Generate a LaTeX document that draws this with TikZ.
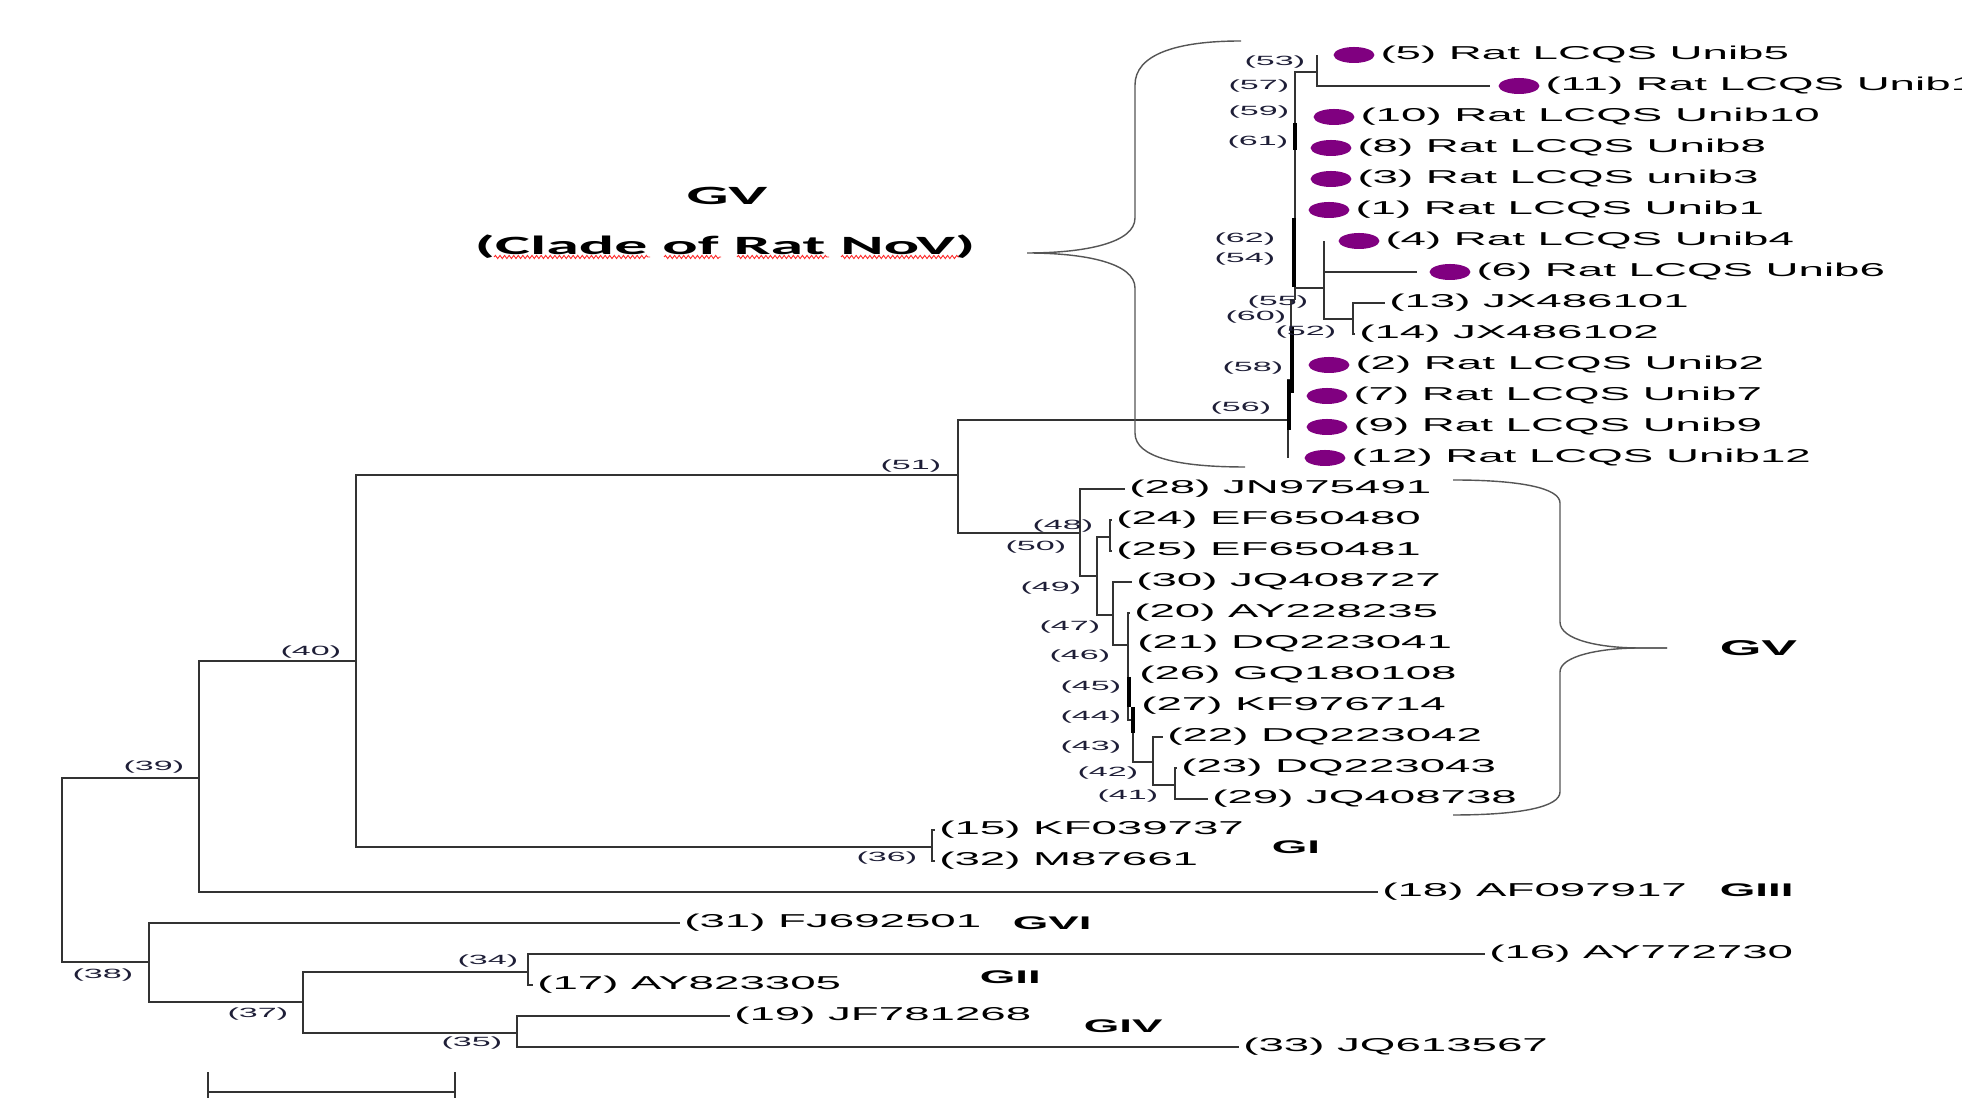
\documentclass[tikz,border=0pt]{standalone}
\usepackage{fontspec}
\setmainfont{Liberation Sans}
\newfontfamily\calibfont{Carlito}
\usepackage{tikz}
\usetikzlibrary{decorations.pathmorphing}
\definecolor{RatDot}{RGB}{128, 0, 128}
\definecolor{TreeLine}{RGB}{51, 51, 51}
\definecolor{BraceLine}{RGB}{85, 85, 85}
\definecolor{LabNavy}{RGB}{30, 30, 55}

\begin{document}
\begin{tikzpicture}[x=0.01cm, y=-0.01cm,
  leaf/.style={anchor=west, inner sep=0pt, inner xsep=0.3pt, xscale=2.45, font=\fontsize{5.3}{6}\selectfont, text=black},
  nlab/.style={anchor=east, inner sep=0pt, xscale=2.55, font=\fontsize{3.8}{4.5}\selectfont, text=LabNavy},
  grp/.style={anchor=west, inner sep=0pt, xscale=2.5, font=\bfseries\fontsize{5.2}{6}\selectfont},
  ratdot/.style={circle, fill=RatDot, inner sep=0pt, minimum size=0.16cm, xscale=2.55},
  branch/.style={draw=TreeLine, line width=0.4pt},
  thickseg/.style={draw=black, line width=0.9pt},
  brace/.style={draw=BraceLine, line width=0.4pt},
  squig/.style={draw=red!85, line width=0.25pt, decorate, decoration={snake, amplitude=0.45pt, segment length=1.3pt}}]

\fill [white] (0,0) rectangle (1962,1098);
\useasboundingbox (0,0) rectangle (1962,1098);

\coordinate (root) at (62,870);
\coordinate (n39) at (199,778);
\coordinate (n40) at (356,661);
\coordinate (n51) at (958,475);
\coordinate (n56) at (1288,420);
\coordinate (n58) at (1291,380);
\coordinate (n55) at (1295,300);
\coordinate (n53) at (1317,72);
\coordinate (n54) at (1324,288);
\coordinate (n52) at (1353,319);
\coordinate (n36) at (932,847);
\coordinate (n50) at (1080,533);
\coordinate (n49) at (1097,576);
\coordinate (n48) at (1110,537);
\coordinate (n47) at (1113,615);
\coordinate (n46) at (1128,645);
\coordinate (n43) at (1133,720);
\coordinate (n42) at (1153,762);
\coordinate (n41) at (1175,785);
\coordinate (n38) at (149,962);
\coordinate (n37) at (303,1002);
\coordinate (n34) at (528,972);
\coordinate (n35) at (517,1033);

\coordinate (tip5) at (1317,55);
\coordinate (tip11) at (1490,86);
\coordinate (tip4) at (1324,241);
\coordinate (tip6) at (1417,272);
\coordinate (tip12) at (1288,458);

\node [ratdot] (d5) at (1354,55) {};
\node [ratdot] (d11) at (1519,86) {};
\node [ratdot] (d10) at (1334,117) {};
\node [ratdot] (d8) at (1331,148) {};
\node [ratdot] (d3) at (1331,179) {};
\node [ratdot] (d1) at (1329,210) {};
\node [ratdot] (d4) at (1359,241) {};
\node [ratdot] (d6) at (1450,272) {};
\node [ratdot] (d2) at (1329,365) {};
\node [ratdot] (d7) at (1327,396) {};
\node [ratdot] (d9) at (1327,427) {};
\node [ratdot] (d12) at (1325,458) {};

\node [leaf] (t5) at (d5.east) {(5) Rat LCQS Unib5};
\node [leaf] (t11) at (d11.east) {(11) Rat LCQS Unib11};
\node [leaf] (t10) at (d10.east) {(10) Rat LCQS Unib10};
\node [leaf] (t8) at (d8.east) {(8) Rat LCQS Unib8};
\node [leaf] (t3) at (d3.east) {(3) Rat LCQS unib3};
\node [leaf] (t1) at (d1.east) {(1) Rat LCQS Unib1};
\node [leaf] (t4) at (d4.east) {(4) Rat LCQS Unib4};
\node [leaf] (t6) at (d6.east) {(6) Rat LCQS Unib6};
\node [leaf] (t13) at (1385,303) {(13) JX486101};
\node [leaf] (t14) at (1355,334) {(14) JX486102};
\node [leaf] (t2) at (d2.east) {(2) Rat LCQS Unib2};
\node [leaf] (t7) at (d7.east) {(7) Rat LCQS Unib7};
\node [leaf] (t9) at (d9.east) {(9) Rat LCQS Unib9};
\node [leaf] (t12) at (d12.east) {(12) Rat LCQS Unib12};

\node [leaf] (t28) at (1125,489) {(28) JN975491};
\node [leaf] (t24) at (1112,520) {(24) EF650480};
\node [leaf] (t25) at (1112,551) {(25) EF650481};
\node [leaf] (t30) at (1132,582) {(30) JQ408727};
\node [leaf] (t20) at (1130,613) {(20) AY228235};
\node [leaf] (t21) at (1133,644) {(21) DQ223041};
\node [leaf] (t26) at (1135,675) {(26) GQ180108};
\node [leaf] (t27) at (1137,706) {(27) KF976714};
\node [leaf] (t22) at (1163,737) {(22) DQ223042};
\node [leaf] (t23) at (1177,768) {(23) DQ223043};
\node [leaf] (t29) at (1208,799) {(29) JQ408738};
\node [leaf] (t15) at (935,830) {(15) KF039737};
\node [leaf] (t32) at (935,861) {(32) M87661};
\node [leaf] (t18) at (1378,892) {(18) AF097917};
\node [leaf] (t31) at (680,923) {(31) FJ692501};
\node [leaf] (t16) at (1485,954) {(16) AY772730};
\node [leaf] (t17) at (533,985) {(17) AY823305};
\node [leaf] (t19) at (730,1016) {(19) JF781268};
\node [leaf] (t33) at (1239,1047) {(33) JQ613567};

\draw [branch] (root) |- (n39);
\draw [branch] (root) |- (n38);
\draw [branch] (n39) |- (n40);
\draw [branch] (n39) |- (t18.west);
\draw [branch] (n40) |- (n51);
\draw [branch] (n40) |- (n36);
\draw [branch] (n36) |- (t15.west);
\draw [branch] (n36) |- (t32.west);
\draw [branch] (n51) |- (n56);
\draw [branch] (n51) |- (n50);
\draw [branch] (n56) -- (tip12);
\draw [branch] (n56) |- (n58);
\draw [branch] (n58) |- (n55);
\draw [branch] (n55) |- (n53);
\draw [branch] (n55) |- (n54);
\draw [branch] (n53) -- (tip5);
\draw [branch] (n53) |- (tip11);
\draw [branch] (n54) -- (tip4);
\draw [branch] (n54) |- (tip6);
\draw [branch] (n54) |- (n52);
\draw [branch] (n52) |- (t13.west);
\draw [branch] (n52) |- (t14.west);
\draw [branch] (n50) |- (t28.west);
\draw [branch] (n50) |- (n49);
\draw [branch] (n49) |- (n48);
\draw [branch] (n49) |- (n47);
\draw [branch] (n48) |- (t24.west);
\draw [branch] (n48) |- (t25.west);
\draw [branch] (n47) |- (t30.west);
\draw [branch] (n47) |- (n46);
\draw [branch] (n46) |- (t20.west);
\draw [branch] (n46) |- (n43);
\draw [branch] (n43) |- (n42);
\draw [branch] (n42) |- (t22.west);
\draw [branch] (n42) |- (n41);
\draw [branch] (n41) |- (t23.west);
\draw [branch] (n41) |- (t29.west);
\draw [branch] (n38) |- (t31.west);
\draw [branch] (n38) |- (n37);
\draw [branch] (n37) |- (n34);
\draw [branch] (n37) |- (n35);
\draw [branch] (n34) |- (t16.west);
\draw [branch] (n34) |- (t17.west);
\draw [branch] (n35) |- (t19.west);
\draw [branch] (n35) |- (t33.west);

\draw [thickseg] (1295,123) -- (1295,150);
\draw [thickseg] (1294,218) -- (1294,287);
\draw [thickseg] (1292,327) -- (1292,393);
\draw [thickseg] (1289,380) -- (1289,430);
\draw [thickseg] (1129,677) -- (1129,707);
\draw [thickseg] (1133,707) -- (1133,733);

\node [nlab] (l53) at (1307,62) {(53)};
\node [nlab] (l57) at (1291,86) {(57)};
\node [nlab] (l59) at (1291,112) {(59)};
\node [nlab] (l61) at (1290,142) {(61)};
\node [nlab] (l62) at (1277,239) {(62)};
\node [nlab] (l54) at (1277,259) {(54)};
\node [nlab] (l55) at (1310,302) {(55)};
\node [nlab] (l60) at (1288,317) {(60)};
\node [nlab] (l52) at (1338,332) {(52)};
\node [nlab] (l58) at (1285,368) {(58)};
\node [nlab] (l56) at (1273,408) {(56)};
\node [nlab] (l51) at (943,466) {(51)};
\node [nlab] (l48) at (1095,526) {(48)};
\node [nlab] (l50) at (1068,547) {(50)};
\node [nlab] (l49) at (1083,588) {(49)};
\node [nlab] (l47) at (1102,627) {(47)};
\node [nlab] (l46) at (1112,656) {(46)};
\node [nlab] (l45) at (1123,687) {(45)};
\node [nlab] (l44) at (1123,717) {(44)};
\node [nlab] (l43) at (1123,747) {(43)};
\node [nlab] (l42) at (1140,773) {(42)};
\node [nlab] (l41) at (1160,796) {(41)};
\node [nlab] (l40) at (343,652) {(40)};
\node [nlab] (l39) at (186,767) {(39)};
\node [nlab] (l38) at (135,975) {(38)};
\node [nlab] (l37) at (290,1014) {(37)};
\node [nlab] (l34) at (520,961) {(34)};
\node [nlab] (l35) at (504,1043) {(35)};
\node [nlab] (l36) at (919,858) {(36)};

\node [grp] (gI) at (1270,847) {GI};
\node [grp] (gIII) at (1718,890) {GIII};
\node [grp] (gVI) at (1011,923) {GVI};
\node [grp] (gII) at (978,977) {GII};
\node [grp] (gIV) at (1082,1026) {GIV};
\node [grp, font=\bfseries\fontsize{6.1}{7}\selectfont] (gVlow) at (1718,648) {GV};

\node [inner sep=0pt, xscale=2.5, font=\calibfont\bfseries\fontsize{7.5}{9}\selectfont] (gVtop) at (727,196) {GV};
\node [inner sep=0pt, xscale=2.5, font=\calibfont\bfseries\fontsize{7.5}{9}\selectfont] (clade) at (725,247) {(Clade of Rat NoV)};
\draw [squig] (494,257) -- (650,257);
\draw [squig] (664,257) -- (721,257);
\draw [squig] (737,257) -- (829,257);
\draw [squig] (841,257) -- (959,257);

\coordinate (ubtip) at (1027,253);
\coordinate (lbtip) at (1667,648);
\draw [brace] (1241,41) .. controls (1175,41) and (1135,55) .. (1135,85) -- (1135,218) .. controls (1135,243) and (1085,253) .. (ubtip) .. controls (1085,253) and (1135,263) .. (1135,288) -- (1135,433) .. controls (1135,458) and (1180,467) .. (1245,467);
\draw [brace] (1453,480) .. controls (1520,480) and (1560,488) .. (1560,503) -- (1560,622) .. controls (1560,640) and (1600,648) .. (1640,648) -- (lbtip);
\draw [brace] (lbtip) -- (1640,648) .. controls (1600,648) and (1560,656) .. (1560,672) -- (1560,792) .. controls (1560,807) and (1520,815) .. (1453,815);

\coordinate (sb1) at (208,1092);
\coordinate (sb2) at (455,1092);
\draw [branch] (sb1) -- (sb2);
\draw [branch] ([yshift=-0.2cm]sb1) -- ([yshift=0.2cm]sb1);
\draw [branch] ([yshift=-0.2cm]sb2) -- ([yshift=0.2cm]sb2);

\end{tikzpicture}
\end{document}
